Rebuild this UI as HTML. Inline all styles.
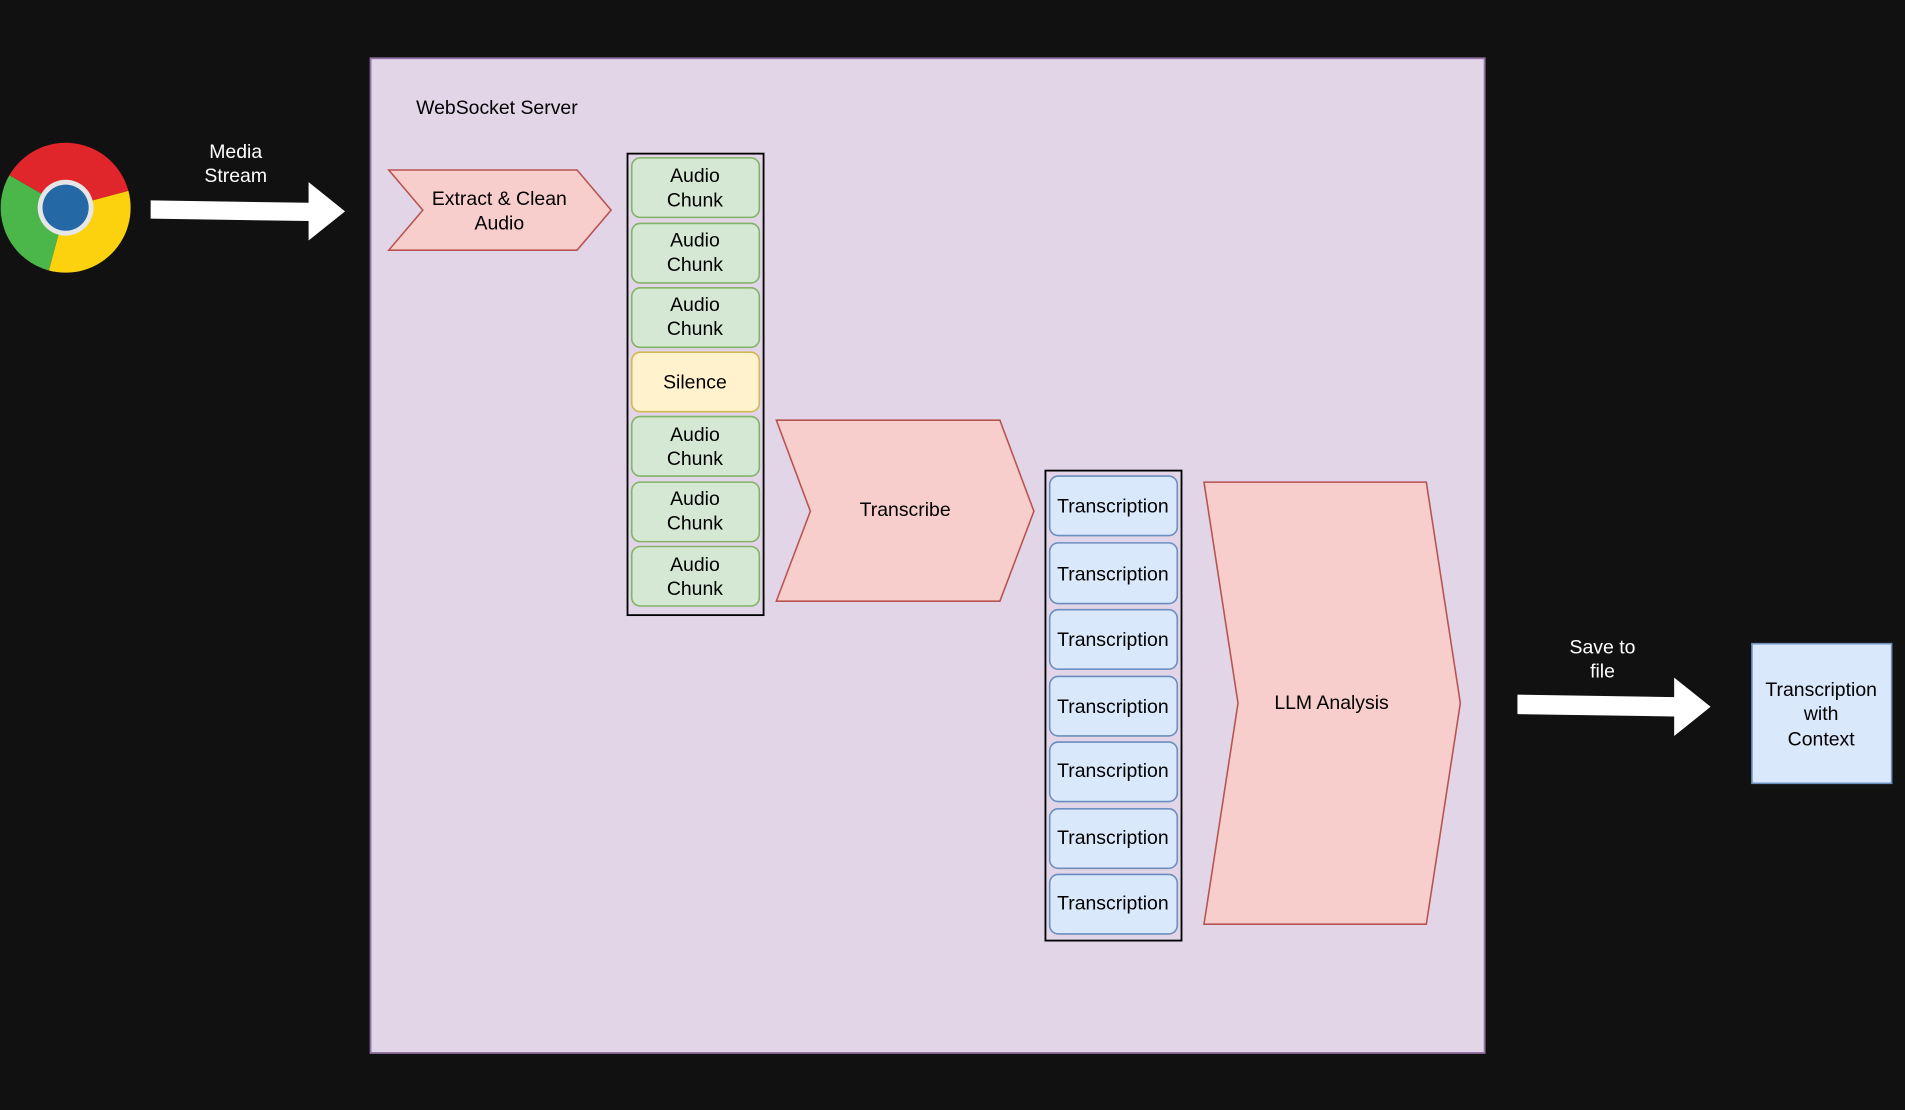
<!DOCTYPE html>
<html><head><meta charset="utf-8"><style>
html,body{margin:0;padding:0;background:#111111;}
svg{display:block}
text{font-family:"Liberation Sans",Arial,sans-serif;font-size:16px;fill:#000;text-anchor:middle}
</style></head><body>
<svg width="1905" height="1110" viewBox="0 0 1568 914" preserveAspectRatio="none" xmlns="http://www.w3.org/2000/svg">
<rect width="1568" height="914" fill="#111111"/>
<!-- chrome -->
<g transform="translate(54,171)">
<path d="M0,0 L-46.3,-26.7 A53.5,53.5 0 0 1 51.7,-13.8 Z" fill="#e0262a"/>
<path d="M0,0 L51.7,-13.8 A53.5,53.5 0 0 1 -13.8,51.7 Z" fill="#fcd20f"/>
<path d="M0,0 L-13.8,51.7 A53.5,53.5 0 0 1 -46.3,-26.7 Z" fill="#4bb64a"/>
<circle r="23" fill="#e6e6e6"/>
<circle r="19" fill="#2469a6"/>
</g>
<!-- arrow 1 -->
<polygon points="124,165 254,167 254,150 284,174 254,198 254,182 124,180" fill="#fff"/>
<text x="194" y="130" style="fill:#fff">Media</text>
<text x="194" y="150" style="fill:#fff">Stream</text>
<!-- server -->
<rect x="305" y="48" width="917" height="819" fill="#e1d5e7" stroke="#9673a6" stroke-width="1.5"/>
<text x="409" y="94">WebSocket Server</text>
<polygon points="320,140 475,140 503,173 475,206 320,206 348,173" fill="#f8cecc" stroke="#b85450" stroke-width="1.3"/>
<text x="411" y="169">Extract &amp; Clean</text>
<text x="411" y="189">Audio</text>
<rect x="516.5" y="126.5" width="112" height="380" fill="none" stroke="#000" stroke-width="1.5"/>
<g stroke-width="1.3">
<rect x="520" y="130" width="105" height="49" rx="7" fill="#d5e8d4" stroke="#82b366"/>
<rect x="520" y="184" width="105" height="49" rx="7" fill="#d5e8d4" stroke="#82b366"/>
<rect x="520" y="237" width="105" height="49" rx="7" fill="#d5e8d4" stroke="#82b366"/>
<rect x="520" y="290" width="105" height="49" rx="7" fill="#fff2cc" stroke="#d6b656"/>
<rect x="520" y="343" width="105" height="49" rx="7" fill="#d5e8d4" stroke="#82b366"/>
<rect x="520" y="397" width="105" height="49" rx="7" fill="#d5e8d4" stroke="#82b366"/>
<rect x="520" y="450" width="105" height="49" rx="7" fill="#d5e8d4" stroke="#82b366"/>
</g>
<text x="572" y="150">Audio</text><text x="572" y="170">Chunk</text>
<text x="572" y="203">Audio</text><text x="572" y="223">Chunk</text>
<text x="572" y="256">Audio</text><text x="572" y="276">Chunk</text>
<text x="572" y="320">Silence</text>
<text x="572" y="363">Audio</text><text x="572" y="383">Chunk</text>
<text x="572" y="416">Audio</text><text x="572" y="436">Chunk</text>
<text x="572" y="470">Audio</text><text x="572" y="490">Chunk</text>
<polygon points="639,346 823,346 851,421 823,495 639,495 667,421" fill="#f8cecc" stroke="#b85450" stroke-width="1.3"/>
<text x="745" y="425">Transcribe</text>
<rect x="860.5" y="387.5" width="112" height="387" fill="none" stroke="#000" stroke-width="1.5"/>
<g fill="#dae8fc" stroke="#6c8ebf" stroke-width="1.3">
<rect x="864" y="392" width="105" height="49" rx="7"/>
<rect x="864" y="447" width="105" height="50" rx="7"/>
<rect x="864" y="502" width="105" height="49" rx="7"/>
<rect x="864" y="557" width="105" height="49" rx="7"/>
<rect x="864" y="611" width="105" height="49" rx="7"/>
<rect x="864" y="666" width="105" height="49" rx="7"/>
<rect x="864" y="720" width="105" height="49" rx="7"/>
</g>
<text x="916" y="422">Transcription</text>
<text x="916" y="478">Transcription</text>
<text x="916" y="532">Transcription</text>
<text x="916" y="587">Transcription</text>
<text x="916" y="640">Transcription</text>
<text x="916" y="695">Transcription</text>
<text x="916" y="749">Transcription</text>
<polygon points="991,397 1174,397 1202,579 1174,761 991,761 1019,579" fill="#f8cecc" stroke="#b85450" stroke-width="1.3"/>
<text x="1096" y="584">LLM Analysis</text>
<!-- arrow 2 -->
<polygon points="1249,572 1378,574 1378,558 1408,582 1378,606 1378,590 1249,588" fill="#fff"/>
<text x="1319" y="538" style="fill:#fff">Save to</text>
<text x="1319" y="558" style="fill:#fff">file</text>
<rect x="1442" y="530" width="115" height="115" fill="#dae8fc" stroke="#6c8ebf" stroke-width="1.3"/>
<text x="1499" y="573">Transcription</text>
<text x="1499" y="593">with</text>
<text x="1499" y="614">Context</text>
</svg>
</body></html>
